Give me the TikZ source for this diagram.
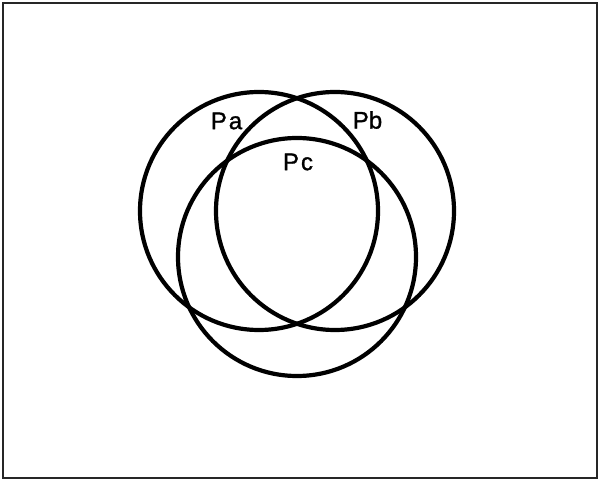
\documentclass[tikz,border=0pt]{standalone}
\usepackage{fontspec}
\setmainfont{Liberation Sans}
\newfontfamily\lblfont[FakeBold=1.2]{Liberation Sans}
\usepackage{tikz}
\usetikzlibrary{positioning}
\tikzset{
  set/.style={circle,draw,line width=4.2pt,minimum size=238pt,inner sep=0pt},
  lbl/.style={font=\lblfont\fontsize{24}{24}\selectfont,inner sep=0pt},
}

\begin{document}
\begin{tikzpicture}[x=1pt,y=-1pt]
  \useasboundingbox (0,0) rectangle (598,484);
  \draw[line width=2pt,black!85] (3,3) rectangle (596.5,478);
  \node[set] (pa) at (259,211){};
  \node[set] (pb) at (335,211){};
  \node[set] (pc) at (297,257){};
  \node[lbl] (la) at (226.5,121){P\kern2pt a};
  \node[lbl] (lb) at (367.5,120){Pb};
  \node[lbl] (lc) at (298,162){P\kern2pt c};
\end{tikzpicture}
\end{document}
